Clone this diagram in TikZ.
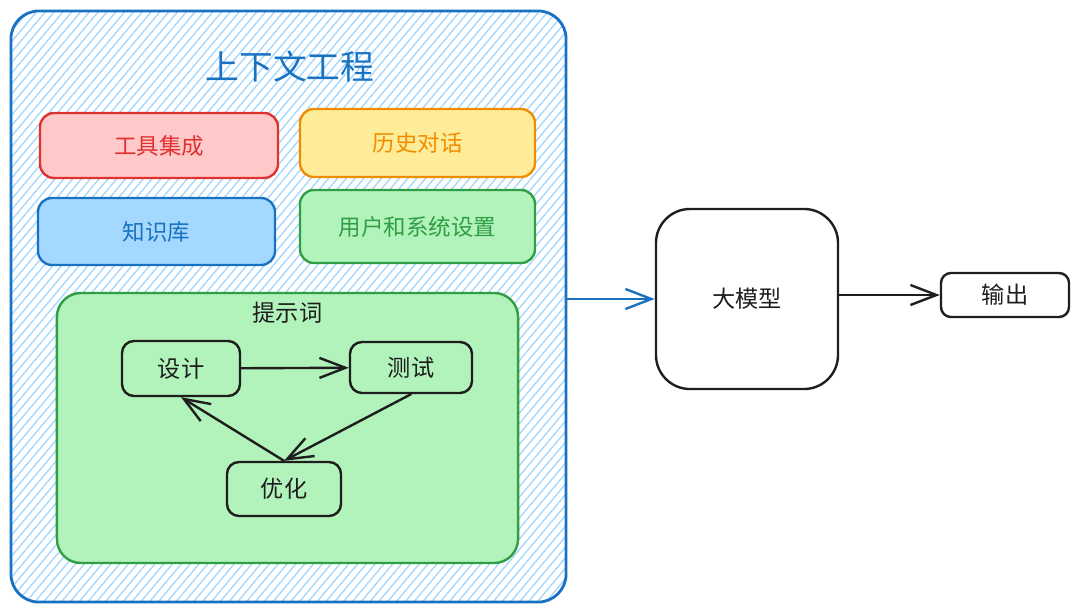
\documentclass[tikz,border=0pt]{standalone}
\usepackage{fontspec}
\newfontfamily\cjk{Noto Sans CJK SC}
\usetikzlibrary{arrows.meta, patterns.meta, positioning}

\definecolor{blu}{HTML}{1971C2}
\definecolor{blutenue}{HTML}{A5D8FF}
\definecolor{rosso}{HTML}{E03131}
\definecolor{rosa}{HTML}{FFC9C9}
\definecolor{arancio}{HTML}{F08C00}
\definecolor{giallo}{HTML}{FFEC99}
\definecolor{verde}{HTML}{2F9E44}
\definecolor{verdino}{HTML}{B2F2BB}
\definecolor{nero}{HTML}{1E1E1E}

\begin{document}
\begin{tikzpicture}[x=0.025cm, y=-0.025cm, >={Straight Barb[length=6.5mm, width=5mm]}, line width=1.7pt, line join=round, line cap=round]
        % Stili
        \tikzstyle{box} = [draw, rectangle, rounded corners=0.35cm, align=center, font=\cjk\fontsize{16}{19}\selectfont]
        \tikzstyle{fase} = [box, draw=nero, text=nero, rounded corners=0.3cm, font=\cjk\fontsize{16.5}{19}\selectfont]
        \tikzstyle{freccia} = [->, draw=nero]

        \useasboundingbox (0,0) rectangle (1080,612);

        % --- Contesto (riquadro esterno) ---
        \node [draw=blu, line width=2pt, rounded corners=0.7cm, minimum width=13.875cm, minimum height=14.775cm,
               pattern={Lines[angle=50, distance=4.8pt, line width=1pt]}, pattern color=blutenue] (contesto) at (288.5,306.5) {};
        \node [text=blu, font=\cjk\fontsize{24}{28}\selectfont] (titolo) at (290,67) {上下文工程};

        % --- Componenti ---
        \node [box, draw=rosso, fill=rosa, text=rosso, minimum width=5.95cm, minimum height=1.625cm] (strumenti) at (159,145.5) {工具集成};
        \node [box, draw=arancio, fill=giallo, text=arancio, minimum width=5.875cm, minimum height=1.7cm] (storia) at (417.5,143) {历史对话};
        \node [box, draw=blu, fill=blutenue, text=blu, minimum width=5.925cm, minimum height=1.675cm] (conoscenza) at (156.5,231.5) {知识库};
        \node [box, draw=verde, fill=verdino, text=verde, minimum width=5.875cm, minimum height=1.825cm] (impostazioni) at (417.5,226.5) {用户和系统设置};

        % --- Prompt ---
        \node [draw=verde, fill=verdino, rounded corners=0.6cm, minimum width=11.525cm, minimum height=6.75cm] (prompt) at (287.5,428) {};
        \node [below=0.1cm of prompt.north, text=nero, font=\cjk\fontsize{16.5}{19}\selectfont] (promptlabel) {提示词};

        \node [fase, minimum width=2.95cm, minimum height=1.375cm] (progetto) at (181,368.5) {设计};
        \node [fase, minimum width=3.05cm, minimum height=1.275cm] (test) at (411,367.5) {测试};
        \node [fase, minimum width=2.85cm, minimum height=1.35cm] (ottimizza) at (284,489) {优化};

        % --- Modello e uscita ---
        \node [fase, rounded corners=0.85cm, minimum width=4.55cm, minimum height=4.5cm] (modello) at (747,299) {大模型};
        \node [fase, rounded corners=0.25cm, minimum width=3.2cm, minimum height=1.1cm] (uscita) at (1005,295) {输出};

        % --- Collegamenti ---
        \draw [freccia] (progetto) -- (test);
        \draw [freccia] (test.south) -- (ottimizza.north);
        \draw [freccia] (ottimizza.north) -- (progetto.south);

        % Contesto -> Modello -> Uscita
        \draw [->, draw=blu] (contesto.east |- modello.west) -- (modello.west);
        \draw [freccia] (modello.east |- uscita.west) -- (uscita.west);

    \end{tikzpicture}
\end{document}
